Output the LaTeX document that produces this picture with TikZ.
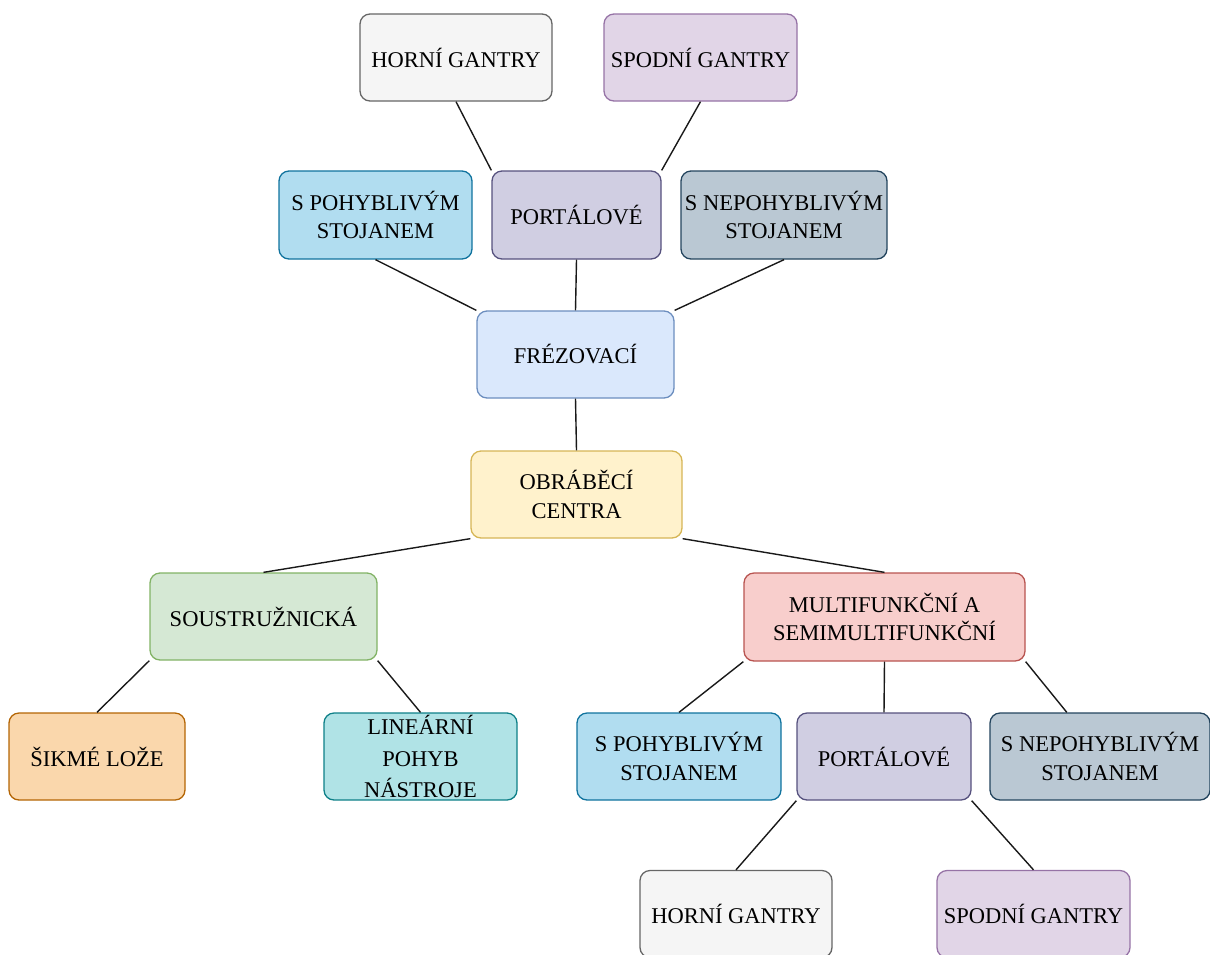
\documentclass[tikz,border=0pt]{standalone}
\usepackage{fontspec}
\setmainfont{Liberation Serif}
\usetikzlibrary{calc}
\definecolor{grayF}{HTML}{F5F5F5}\definecolor{grayS}{HTML}{666666}
\definecolor{purF}{HTML}{E1D5E7}\definecolor{purS}{HTML}{9673A6}
\definecolor{blueF}{HTML}{B1DDF0}\definecolor{blueS}{HTML}{10739E}
\definecolor{lavF}{HTML}{D0CEE2}\definecolor{lavS}{HTML}{56517E}
\definecolor{slateF}{HTML}{BAC8D3}\definecolor{slateS}{HTML}{23445D}
\definecolor{lbF}{HTML}{DAE8FC}\definecolor{lbS}{HTML}{6C8EBF}
\definecolor{yelF}{HTML}{FFF2CC}\definecolor{yelS}{HTML}{D6B656}
\definecolor{grnF}{HTML}{D5E8D4}\definecolor{grnS}{HTML}{82B366}
\definecolor{redF}{HTML}{F8CECC}\definecolor{redS}{HTML}{B85450}
\definecolor{orF}{HTML}{FAD7AC}\definecolor{orS}{HTML}{B46504}
\definecolor{tealF}{HTML}{B0E3E6}\definecolor{tealS}{HTML}{0E8088}
\tikzset{
  box/.style={rectangle, rounded corners=10pt, line width=1.3pt, align=center,
    inner sep=1pt, font=\fontsize{22.5}{28.5}\selectfont, text=black},
  gbox/.style={box, fill=grayF, draw=grayS},
  pbox/.style={box, fill=purF, draw=purS},
  bbox/.style={box, fill=blueF, draw=blueS},
  lbox/.style={box, fill=lavF, draw=lavS},
  sbox/.style={box, fill=slateF, draw=slateS},
  fbox/.style={box, fill=lbF, draw=lbS},
  ybox/.style={box, fill=yelF, draw=yelS},
  grbox/.style={box, fill=grnF, draw=grnS},
  rbox/.style={box, fill=redF, draw=redS},
  obox/.style={box, fill=orF, draw=orS},
  tbox/.style={box, fill=tealF, draw=tealS},
  link/.style={line width=1.4pt, draw=black!90}
}
\begin{document}
\begin{tikzpicture}[x=1pt,y=-1pt]
\useasboundingbox (0,0) rectangle (1210,954);
\begin{scope}
\clip (0,0) rectangle (1210,954);
\node[gbox, minimum width=192pt, minimum height=87pt] (hg1) at (456,57.5) {HORNÍ GANTRY};
\node[pbox, minimum width=193pt, minimum height=87pt] (sg1) at (700.5,57.5) {SPODNÍ GANTRY};
\node[bbox, minimum width=193pt, minimum height=88pt] (sp1) at (375.5,215) {S POHYBLIVÝM\\STOJANEM};
\node[lbox, minimum width=169pt, minimum height=88pt] (po1) at (576.5,215) {PORTÁLOVÉ};
\node[sbox, minimum width=206pt, minimum height=88pt] (sn1) at (784,215) {S NEPOHYBLIVÝM\\STOJANEM};
\node[fbox, minimum width=197pt, minimum height=87pt] (fr) at (575.5,354.5) {FRÉZOVACÍ};
\node[ybox, minimum width=211pt, minimum height=87pt] (ob) at (576.5,494.5) {OBRÁBĚCÍ\\CENTRA};
\node[grbox, minimum width=227pt, minimum height=87pt] (so) at (263.5,616.5) {SOUSTRUŽNICKÁ};
\node[rbox, minimum width=281pt, minimum height=88pt] (mu) at (884.5,617) {MULTIFUNKČNÍ A\\SEMIMULTIFUNKČNÍ};
\node[obox, minimum width=176pt, minimum height=87pt] (sk) at (97,756.5) {ŠIKMÉ LOŽE};
\node[tbox, minimum width=193pt, minimum height=87pt, font=\fontsize{22.5}{31.5}\selectfont] (li) at (420.5,756.5) {LINEÁRNÍ\\POHYB\\NÁSTROJE};
\node[bbox, minimum width=204pt, minimum height=87pt] (sp2) at (679,756.5) {S POHYBLIVÝM\\STOJANEM};
\node[lbox, minimum width=174pt, minimum height=87pt] (po2) at (884,756.5) {PORTÁLOVÉ};
\node[sbox, minimum width=220pt, minimum height=87pt] (sn2) at (1100,756.5) {S NEPOHYBLIVÝM\\STOJANEM};
\node[gbox, minimum width=192pt, minimum height=87pt] (hg2) at (736,914) {HORNÍ GANTRY};
\node[pbox, minimum width=193pt, minimum height=87pt] (sg2) at (1033.5,914) {SPODNÍ GANTRY};
\end{scope}
\draw[link] (hg1.south) -- (po1.north west);
\draw[link] (sg1.south) -- (po1.north east);
\draw[link] (sp1.south) -- (fr.north west);
\draw[link] (po1.south) -- (fr.north);
\draw[link] (sn1.south) -- (fr.north east);
\draw[link] (fr.south) -- (ob.north);
\draw[link] (ob.south west) -- (so.north);
\draw[link] (ob.south east) -- (mu.north);
\draw[link] (so.south west) -- (sk.north);
\draw[link] (so.south east) -- (li.north);
\draw[link] (mu.south west) -- (sp2.north);
\draw[link] (mu.south) -- (po2.north);
\draw[link] (mu.south east) -- ($(sn2.north west)!0.35!(sn2.north east)$);
\draw[link] (po2.south west) -- (hg2.north);
\draw[link] (po2.south east) -- (sg2.north);
\end{tikzpicture}
\end{document}
